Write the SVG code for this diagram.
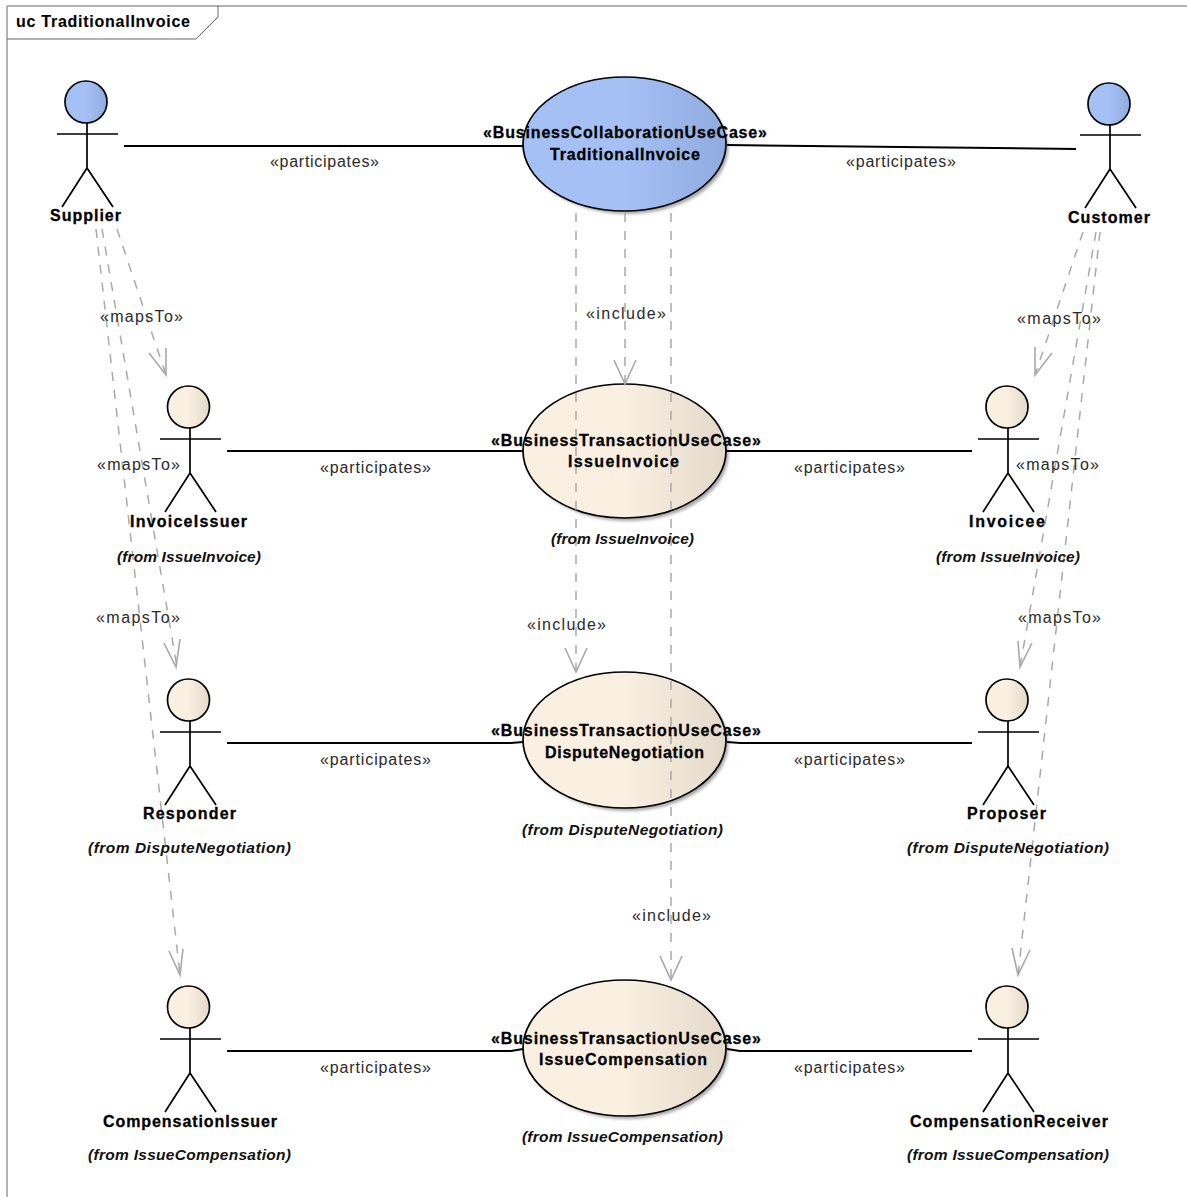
<svg xmlns="http://www.w3.org/2000/svg" width="1187" height="1197" viewBox="0 0 1187 1197">
<style>
text{font-family:"Liberation Sans",Arial,sans-serif;font-size:16px;fill:#000;text-anchor:middle}
.b{font-weight:bold;stroke:#000;stroke-width:.3}
.i{font-style:italic;font-weight:bold;font-size:15.5px;fill:#111}
.l{fill:#2a2a2a}
.ln{stroke:#000;stroke-width:2;fill:none}
.d{stroke:#a9a9a9;stroke-width:1.5;fill:none;stroke-dasharray:9 9}
.h{stroke:#a9a9a9;stroke-width:1.6;fill:none}
.a{stroke:#000;stroke-width:1.7;fill:none}
.blue{fill:url(#gb);stroke:#000;stroke-width:1.7}
.tan{fill:url(#gt);stroke:#000;stroke-width:1.7}
.sh{fill:#a8a8a8;filter:url(#bl)}
</style>
<defs>
<linearGradient id="gb"><stop offset="0" stop-color="#a4c0f4"/><stop offset=".5" stop-color="#a4c0f4"/><stop offset="1" stop-color="#8fabdf"/></linearGradient>
<linearGradient id="gt"><stop offset="0" stop-color="#f9f0e2"/><stop offset=".5" stop-color="#f9f0e2"/><stop offset="1" stop-color="#e4d9c9"/></linearGradient>
<filter id="bl" x="-10%" y="-10%" width="120%" height="120%"><feGaussianBlur stdDeviation="1.6"/></filter>
<g id="actor"><path class="a" d="M0 21V66M-30 32H31M0 66L-25 105M0 66L26 105"/></g>
</defs>
<rect width="1187" height="1197" fill="#fff"/>
<g id="frame">
<path d="M7 1197V6H1187" fill="none" stroke="#666" stroke-width="1"/>
<path d="M7 39H196L218 17V6" fill="none" stroke="#666" stroke-width="1"/>
<text class="b" x="103" y="27" textLength="174" lengthAdjust="spacing" style="stroke-width:.1">uc TraditionalInvoice</text>
</g>
<g id="shadows">
<ellipse class="sh" cx="627.5" cy="147" rx="101" ry="67"/>
<ellipse class="sh" cx="627.5" cy="454" rx="101" ry="67"/>
<ellipse class="sh" cx="627.5" cy="743" rx="101" ry="68"/>
<ellipse class="sh" cx="627.5" cy="1051" rx="101" ry="68"/>
</g>
<g id="uc-traditional"><ellipse class="blue" cx="624.5" cy="144" rx="101.5" ry="67"/></g>
<g id="uc-issueinvoice"><ellipse class="tan" cx="624.5" cy="451" rx="101.5" ry="67"/></g>
<g id="uc-dispute"><ellipse class="tan" cx="624.5" cy="740" rx="101.5" ry="68"/></g>
<g id="uc-compensation"><ellipse class="tan" cx="624.5" cy="1048" rx="101.5" ry="68"/></g>
<g id="connectors">
<path class="ln" d="M124 146H523"/>
<path class="ln" d="M727 145L1076 149"/>
<path class="ln" d="M227 451H523"/>
<path class="ln" d="M726 451H972"/>
<path class="ln" d="M227 743H511L523 742"/>
<path class="ln" d="M727 742L740 743H972"/>
<path class="ln" d="M227 1051H511L523 1049"/>
<path class="ln" d="M727 1049L740 1051H972"/>
<path class="d" d="M625 213V384"/><path class="h" d="M614 360L625 384L636 360"/>
<path class="d" d="M576 213V672"/><path class="h" d="M565 648L576 672L587 648"/>
<path class="d" d="M671 213V980"/><path class="h" d="M660 956L671 980L682 956"/>
<path class="d" d="M117 229L166 375"/><path class="h" d="M149 353L166 375V348"/>
<path class="d" d="M102 229L177 667"/><path class="h" d="M164 643L176 667L180 639"/>
<path class="d" d="M96 229L180 975"/><path class="h" d="M169 951L180 975L183 949"/>
<path class="d" d="M1083 232L1035 375"/><path class="h" d="M1035 347V375L1052 353"/>
<path class="d" d="M1096 232L1020 667"/><path class="h" d="M1018 641L1020 667L1032 643"/>
<path class="d" d="M1100 232L1018 975"/><path class="h" d="M1012 948L1018 975L1030 950"/>
</g>
<g id="labels">
<text class="l" x="324.5" y="167" textLength="109" lengthAdjust="spacing">«participates»</text>
<text class="l" x="901" y="167" textLength="110" lengthAdjust="spacing">«participates»</text>
<text class="l" x="375.5" y="473" textLength="111" lengthAdjust="spacing">«participates»</text>
<text class="l" x="849.5" y="473" textLength="111" lengthAdjust="spacing">«participates»</text>
<text class="l" x="375.5" y="765" textLength="111" lengthAdjust="spacing">«participates»</text>
<text class="l" x="849.5" y="765" textLength="111" lengthAdjust="spacing">«participates»</text>
<text class="l" x="375.5" y="1073" textLength="111" lengthAdjust="spacing">«participates»</text>
<text class="l" x="849.5" y="1073" textLength="111" lengthAdjust="spacing">«participates»</text>
<text class="l" x="141.5" y="322" textLength="83" lengthAdjust="spacing">«mapsTo»</text>
<text class="l" x="138.5" y="470" textLength="83" lengthAdjust="spacing">«mapsTo»</text>
<text class="l" x="138" y="623" textLength="84" lengthAdjust="spacing">«mapsTo»</text>
<text class="l" x="1059" y="324" textLength="84" lengthAdjust="spacing">«mapsTo»</text>
<text class="l" x="1057.5" y="470" textLength="83" lengthAdjust="spacing">«mapsTo»</text>
<text class="l" x="1059.5" y="623" textLength="83" lengthAdjust="spacing">«mapsTo»</text>
<text class="l" x="626" y="319" textLength="80" lengthAdjust="spacing">«include»</text>
<text class="l" x="566.5" y="630" textLength="79" lengthAdjust="spacing">«include»</text>
<text class="l" x="671.5" y="921" textLength="79" lengthAdjust="spacing">«include»</text>
</g>
<g id="n-traditional-text"><text class="b" x="625" y="138" textLength="284" lengthAdjust="spacing">«BusinessCollaborationUseCase»</text><text class="b" x="625" y="160" textLength="150" lengthAdjust="spacing">TraditionalInvoice</text></g>
<g id="n-issue-text"><text class="b" x="626" y="446" textLength="270" lengthAdjust="spacing">«BusinessTransactionUseCase»</text><text class="b" x="623.5" y="467" textLength="111" lengthAdjust="spacing">IssueInvoice</text><text class="i" x="622.5" y="544" textLength="143" lengthAdjust="spacing">(from IssueInvoice)</text></g>
<g id="n-dispute-text"><text class="b" x="626" y="736" textLength="270" lengthAdjust="spacing">«BusinessTransactionUseCase»</text><text class="b" x="624.5" y="758" textLength="159" lengthAdjust="spacing">DisputeNegotiation</text><text class="i" x="622.5" y="835" textLength="201" lengthAdjust="spacing">(from DisputeNegotiation)</text></g>
<g id="n-comp-text"><text class="b" x="626" y="1044" textLength="270" lengthAdjust="spacing">«BusinessTransactionUseCase»</text><text class="b" x="623" y="1065" textLength="168" lengthAdjust="spacing">IssueCompensation</text><text class="i" x="622.5" y="1142" textLength="201" lengthAdjust="spacing">(from IssueCompensation)</text></g>
<g id="supplier"><circle class="blue" cx="86" cy="102" r="21"/><use href="#actor" x="87" y="102"/><text class="b" x="85.5" y="221" textLength="71" lengthAdjust="spacing">Supplier</text></g>
<g id="customer"><circle class="blue" cx="1109" cy="104" r="21"/><use href="#actor" x="1110" y="103"/><text class="b" x="1109" y="223" textLength="82" lengthAdjust="spacing">Customer</text></g>
<g id="invoiceissuer"><circle class="tan" cx="188.5" cy="407" r="21"/><use href="#actor" x="190" y="407"/><text class="b" x="188.5" y="527" textLength="117" lengthAdjust="spacing">InvoiceIssuer</text><text class="i" x="189" y="562" textLength="144" lengthAdjust="spacing">(from IssueInvoice)</text></g>
<g id="invoicee"><circle class="tan" cx="1007" cy="407" r="21"/><use href="#actor" x="1008" y="407"/><text class="b" x="1007" y="527" textLength="76" lengthAdjust="spacing">Invoicee</text><text class="i" x="1008" y="562" textLength="144" lengthAdjust="spacing">(from IssueInvoice)</text></g>
<g id="responder"><circle class="tan" cx="188.5" cy="700" r="21"/><use href="#actor" x="190" y="700"/><text class="b" x="189.5" y="819" textLength="93" lengthAdjust="spacing">Responder</text><text class="i" x="189.5" y="853" textLength="203" lengthAdjust="spacing">(from DisputeNegotiation)</text></g>
<g id="proposer"><circle class="tan" cx="1007" cy="700" r="21"/><use href="#actor" x="1008" y="700"/><text class="b" x="1006.5" y="819" textLength="79" lengthAdjust="spacing">Proposer</text><text class="i" x="1008" y="853" textLength="202" lengthAdjust="spacing">(from DisputeNegotiation)</text></g>
<g id="compissuer"><circle class="tan" cx="188.5" cy="1007" r="21"/><use href="#actor" x="190" y="1007"/><text class="b" x="190" y="1127" textLength="174" lengthAdjust="spacing">CompensationIssuer</text><text class="i" x="189.5" y="1160" textLength="203" lengthAdjust="spacing">(from IssueCompensation)</text></g>
<g id="compreceiver"><circle class="tan" cx="1007" cy="1007" r="21"/><use href="#actor" x="1008" y="1007"/><text class="b" x="1009" y="1127" textLength="198" lengthAdjust="spacing">CompensationReceiver</text><text class="i" x="1008" y="1160" textLength="202" lengthAdjust="spacing">(from IssueCompensation)</text></g>
</svg>
